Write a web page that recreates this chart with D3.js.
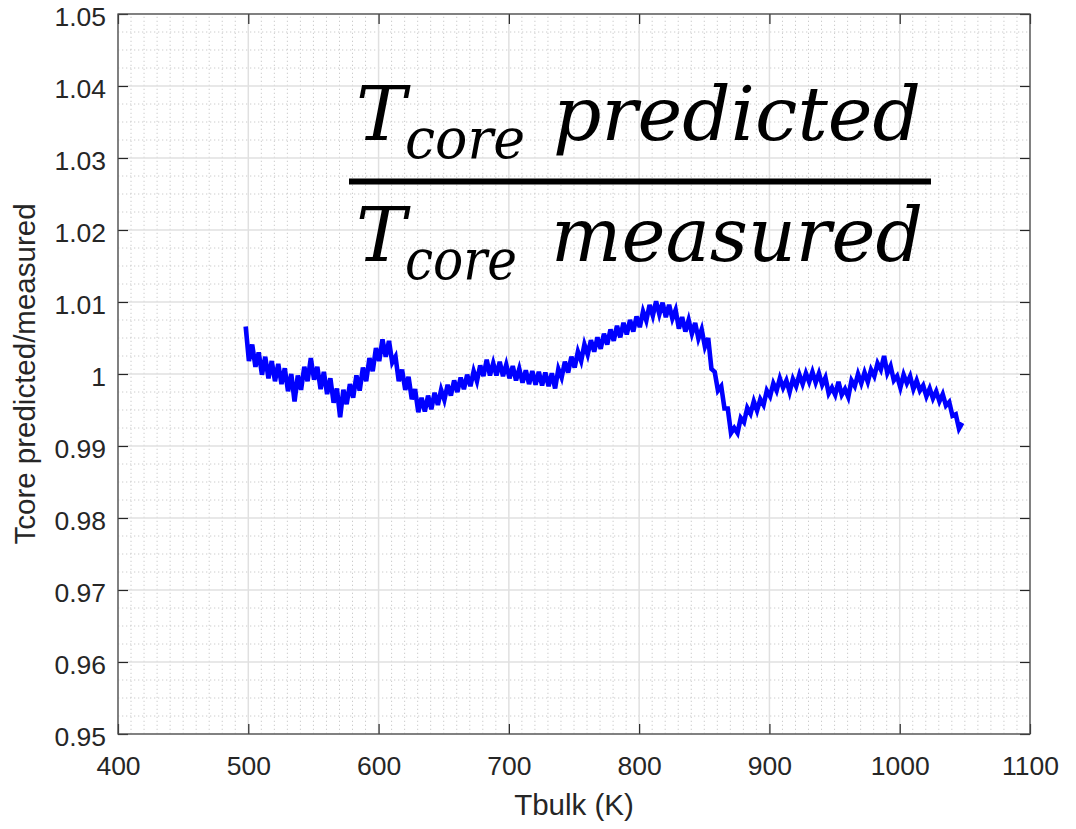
<!DOCTYPE html>
<html>
<head>
<meta charset="utf-8">
<script src="https://cdn.jsdelivr.net/npm/d3@7"></script>
<style>
  body { margin: 0; background: #fff; }
  svg { display: block; }
</style>
</head>
<body>
<div id="chart"></div>
<script>
// tick values and labels (as shown on the axes)
var xTicks = [400, 500, 600, 700, 800, 900, 1000, 1100];
var yTicks = [0.95, 0.96, 0.97, 0.98, 0.99, 1.00, 1.01, 1.02, 1.03, 1.04, 1.05];
var yTickLabels = ["0.95", "0.96", "0.97", "0.98", "0.99", "1", "1.01", "1.02", "1.03", "1.04", "1.05"];

// Tbulk samples: first value and spacing (K)
var tStart = 498;
var tStep = 2.5;

// Tcore predicted / measured (noisy trace)
var ratio = [
  1.0066, 1.0018, 1.0041, 1.0010, 1.0030, 0.9999, 1.0024, 0.9994, 1.0018, 0.9990,
  1.0014, 0.9986, 1.0008, 0.9976, 1.0000, 0.9962, 0.9998, 0.9978, 1.0010, 0.9990,
  1.0022, 0.9992, 1.0010, 0.9979, 1.0003, 0.9972, 0.9994, 0.9960, 0.9980, 0.9940,
  0.9978, 0.9958, 0.9986, 0.9967, 0.9998, 0.9977, 1.0009, 0.9990, 1.0022, 1.0004,
  1.0036, 1.0018, 1.0048, 1.0024, 1.0046, 1.0016, 1.0024, 0.9990, 1.0006, 0.9978,
  0.9996, 0.9965, 0.9979, 0.9947, 0.9967, 0.9948, 0.9970, 0.9951, 0.9974, 0.9957,
  0.9978, 0.9964, 0.9985, 0.9970, 0.9991, 0.9975, 0.9995, 0.9979, 0.9999, 0.9983,
  1.0004, 0.9990, 1.0012, 0.9997, 1.0020, 0.9998, 1.0015, 0.9998, 1.0017, 0.9997,
  1.0013, 0.9994, 1.0011, 0.9991, 1.0007, 0.9988, 1.0005, 0.9986, 1.0004, 0.9985,
  1.0003, 0.9984, 1.0002, 0.9983, 1.0001, 0.9980, 1.0007, 0.9995, 1.0017, 1.0002,
  1.0024, 1.0009, 1.0031, 1.0018, 1.0041, 1.0027, 1.0047, 1.0031, 1.0051, 1.0035,
  1.0056, 1.0041, 1.0062, 1.0046, 1.0067, 1.0051, 1.0071, 1.0055, 1.0075, 1.0059,
  1.0080, 1.0065, 1.0087, 1.0074, 1.0096, 1.0081, 1.0101, 1.0083, 1.0099, 1.0079,
  1.0096, 1.0077, 1.0089, 1.0063, 1.0079, 1.0059, 1.0075, 1.0056, 1.0071, 1.0049,
  1.0062, 1.0038, 1.0050, 1.0007, 1.0003, 0.9977, 0.9983, 0.9952, 0.9952, 0.9918,
  0.9925, 0.9918, 0.9939, 0.9933, 0.9953, 0.9945, 0.9962, 0.9949, 0.9965, 0.9957,
  0.9977, 0.9969, 0.9987, 0.9977, 0.9994, 0.9981, 0.9991, 0.9975, 0.9993, 0.9983,
  0.9999, 0.9986, 1.0001, 0.9989, 1.0003, 0.9988, 1.0001, 0.9985, 0.9995, 0.9973,
  0.9981, 0.9971, 0.9989, 0.9971, 0.9979, 0.9968, 0.9991, 0.9983, 1.0000, 0.9987,
  1.0002, 0.9989, 1.0006, 0.9997, 1.0015, 1.0006, 1.0025, 1.0001, 1.0011, 0.9991,
  0.9997, 0.9981, 0.9999, 0.9987, 0.9997, 0.9979, 0.9991, 0.9977, 0.9984, 0.9969,
  0.9980, 0.9966, 0.9976, 0.9962, 0.9972, 0.9956, 0.9961, 0.9942, 0.9944, 0.9924,
  0.9932
];

var w = 1076;
var h = 829;
var margin = {left: 118, right: 46, top: 14, bottom: 95};

var axisColor = "#262626";

var svg = d3.select("#chart")
            .append("svg")
            .attr("width", w)
            .attr("height", h);

var x = d3.scaleLinear()
          .domain([400, 1100])
          .range([margin.left, w - margin.right]);

var y = d3.scaleLinear()
          .domain([0.95, 1.05])
          .range([h - margin.bottom, margin.top]);

// minor grid (dotted)
var xMinor = d3.range(400, 1101, 10).filter(d => d % 100 !== 0);
var yMinor = d3.range(0, 41).map(i => 0.95 + i * 0.0025).filter((d, i) => i % 4 !== 0);

svg.append("g")
   .selectAll("line")
   .data(xMinor)
   .enter()
   .append("line")
   .attr("x1", d => x(d)).attr("x2", d => x(d))
   .attr("y1", y(0.95)).attr("y2", y(1.05))
   .attr("stroke", "#cccccc")
   .attr("stroke-width", 1)
   .attr("stroke-dasharray", "1.3,2.7");

svg.append("g")
   .selectAll("line")
   .data(yMinor)
   .enter()
   .append("line")
   .attr("x1", x(400)).attr("x2", x(1100))
   .attr("y1", d => y(d)).attr("y2", d => y(d))
   .attr("stroke", "#cccccc")
   .attr("stroke-width", 1)
   .attr("stroke-dasharray", "1.3,2.7");

// major grid
svg.append("g")
   .selectAll("line")
   .data(xTicks)
   .enter()
   .append("line")
   .attr("x1", d => x(d)).attr("x2", d => x(d))
   .attr("y1", y(0.95)).attr("y2", y(1.05))
   .attr("stroke", "#e0e0e0")
   .attr("stroke-width", 1.5);

svg.append("g")
   .selectAll("line")
   .data(yTicks)
   .enter()
   .append("line")
   .attr("x1", x(400)).attr("x2", x(1100))
   .attr("y1", d => y(d)).attr("y2", d => y(d))
   .attr("stroke", "#e0e0e0")
   .attr("stroke-width", 1.5);

// data trace
var line = d3.line()
             .x((d, i) => x(tStart + i * tStep))
             .y(d => y(d));

svg.append("path")
   .datum(ratio)
   .attr("d", line)
   .attr("fill", "none")
   .attr("stroke", "#0000ff")
   .attr("stroke-width", 4.6)
   .attr("stroke-linejoin", "miter");

// axes (ticks point inward, box on)
function styleAxis(g) {
    g.select(".domain").remove();
    g.selectAll(".tick line").attr("stroke", axisColor).attr("stroke-width", 1.2);
    g.selectAll("text")
     .attr("fill", axisColor)
     .attr("font-family", "'Liberation Sans', Arial, sans-serif")
     .attr("font-size", "26.5px");
}

svg.append("g")
   .attr("transform", `translate(0,${y(0.95)})`)
   .call(d3.axisBottom(x).tickValues(xTicks).tickFormat(d3.format("d"))
           .tickSizeInner(-10).tickSizeOuter(0).tickPadding(22))
   .call(styleAxis);

svg.append("g")
   .attr("transform", `translate(${x(400)},0)`)
   .call(d3.axisLeft(y).tickValues(yTicks).tickFormat((d, i) => yTickLabels[i])
           .tickSizeInner(-10).tickSizeOuter(0).tickPadding(12))
   .call(styleAxis)
   .selectAll("text").attr("dy", "0.45em");

svg.append("g")
   .attr("transform", `translate(0,${y(1.05)})`)
   .call(d3.axisTop(x).tickValues(xTicks).tickFormat("")
           .tickSizeInner(-10).tickSizeOuter(0))
   .call(styleAxis);

svg.append("g")
   .attr("transform", `translate(${x(1100)},0)`)
   .call(d3.axisRight(y).tickValues(yTicks).tickFormat("")
           .tickSizeInner(-10).tickSizeOuter(0))
   .call(styleAxis);

svg.append("rect")
   .attr("x", x(400))
   .attr("y", y(1.05))
   .attr("width", x(1100) - x(400))
   .attr("height", y(0.95) - y(1.05))
   .attr("fill", "none")
   .attr("stroke", "#4a4a4a")
   .attr("stroke-width", 1.3);

// axis labels
svg.append("text")
   .attr("x", (x(400) + x(1100)) / 2)
   .attr("y", 815)
   .attr("text-anchor", "middle")
   .attr("fill", axisColor)
   .attr("font-family", "'Liberation Sans', Arial, sans-serif")
   .attr("font-size", "29.5px")
   .text("Tbulk (K)");

svg.append("text")
   .attr("transform", `translate(35,${(y(0.95) + y(1.05)) / 2}) rotate(-90)`)
   .attr("text-anchor", "middle")
   .attr("fill", axisColor)
   .attr("font-family", "'Liberation Sans', Arial, sans-serif")
   .attr("font-size", "29.5px")
   .text("Tcore predicted/measured");

// equation annotation
var eq = svg.append("g")
            .attr("font-family", "'DejaVu Serif', serif")
            .attr("font-style", "italic")
            .attr("fill", "#000");

function eqRow(baseY, word, wordX, wordWidth, coreWidth) {
    eq.append("text").attr("x", 356).attr("y", baseY)
      .attr("font-size", "75px").text("T");
    eq.append("text").attr("x", 405).attr("y", baseY + 18)
      .attr("font-size", "56px")
      .attr("textLength", coreWidth).attr("lengthAdjust", "spacingAndGlyphs")
      .text("core");
    eq.append("text").attr("x", wordX).attr("y", baseY)
      .attr("font-size", "75px")
      .attr("textLength", wordWidth).attr("lengthAdjust", "spacingAndGlyphs")
      .text(word);
}

eqRow(140, "predicted", 553, 368, 120);
eqRow(261, "measured", 551, 372, 112);

eq.append("line")
  .attr("x1", 349).attr("x2", 931)
  .attr("y1", 181.5).attr("y2", 181.5)
  .attr("stroke", "#000")
  .attr("stroke-width", 6);
</script>
</body>
</html>
